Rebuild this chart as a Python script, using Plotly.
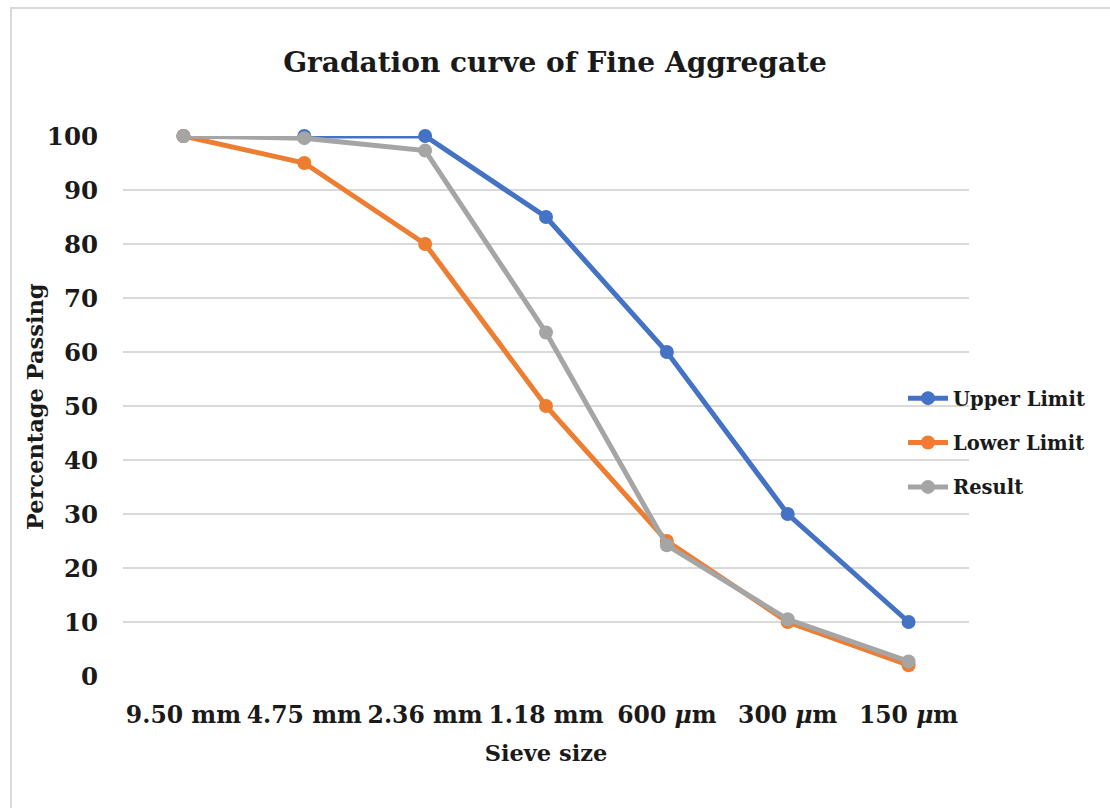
import plotly.graph_objects as go

sieve_sizes = ["9.50 mm", "4.75 mm", "2.36 mm", "1.18 mm", "600 <i>μ</i>m", "300 <i>μ</i>m", "150 <i>μ</i>m"]
upper_limit = [100, 100, 100, 85, 60, 30, 10]
lower_limit = [100, 95, 80, 50, 25, 10, 2]
result = [100, 99.6, 97.3, 63.6, 24.2, 10.5, 2.7]
y_ticks = [0, 10, 20, 30, 40, 50, 60, 70, 80, 90, 100]

FONT = "DejaVu Serif"
W, H = 1110, 808
L, R, T, B = 123, 141, 136, 132
pw, ph = W - L - R, H - T - B

x_idx = list(range(len(sieve_sizes)))

fig = go.Figure()
series = [
    ("Upper Limit", upper_limit, "#4472C4"),
    ("Lower Limit", lower_limit, "#ED7D31"),
    ("Result", result, "#A5A5A5"),
]
for name, vals, col in series:
    fig.add_trace(go.Scatter(
        x=x_idx, y=vals, name=f"<b>{name}</b>", mode="lines+markers",
        line=dict(color=col, width=5),
        marker=dict(color=col, size=14),
        cliponaxis=False, legendgroup=name,
    ))

fig.update_layout(
    width=W, height=H,
    margin=dict(l=L, r=R, t=T, b=B),
    paper_bgcolor="white", plot_bgcolor="white",
    title=dict(text="<b>Gradation curve of Fine Aggregate</b>",
               x=0.5, xanchor="center", y=1 - 62 / H, yanchor="middle",
               font=dict(family=FONT, size=28, color="#1a1a1a")),
    font=dict(family=FONT, color="#1a1a1a"),
    showlegend=True,
    legend=dict(x=(903 - L) / pw, y=(676 - 379) / ph, xanchor="left", yanchor="top",
                font=dict(family=FONT, size=19.5, color="#1a1a1a"),
                bgcolor="rgba(0,0,0,0)", tracegroupgap=16,
                itemwidth=40),
    xaxis=dict(
        range=[-0.5, len(sieve_sizes) - 0.5],
        tickmode="array", tickvals=x_idx,
        ticktext=[f"<b>{s}</b>" for s in sieve_sizes],
        tickfont=dict(family=FONT, size=23.5, color="#1a1a1a"),
        showgrid=False, zeroline=False, showline=False, ticks="",
        ticklabelstandoff=22,
        title=dict(text="<b>Sieve size</b>", font=dict(family=FONT, size=22.5, color="#1a1a1a"), standoff=17),
    ),
    yaxis=dict(
        range=[0, 100], tickmode="array", tickvals=y_ticks,
        ticktext=[f"<b>{v}</b>" for v in y_ticks],
        tickfont=dict(family=FONT, size=24.5, color="#1a1a1a"),
        showgrid=True, gridcolor="#d9d9d9", gridwidth=1.5,
        zeroline=False, showline=False, ticks="",
        ticklabelstandoff=24,
    ),
    annotations=[dict(text="<b>Percentage Passing</b>", xref="paper", yref="paper",
                      x=(35 - L) / pw, y=(676 - 407) / ph, xanchor="center", yanchor="middle",
                      textangle=-90, showarrow=False,
                      font=dict(family=FONT, size=22.5, color="#1a1a1a"))],
    shapes=[dict(type="rect", xref="paper", yref="paper",
                 x0=(11 - L) / pw, x1=(W + 20 - L) / pw,
                 y0=(676 - (H + 20)) / ph, y1=(676 - 8) / ph,
                 line=dict(color="#d9d9d9", width=2), fillcolor="rgba(0,0,0,0)", layer="below")],
)

fig.write_html("out.html")
